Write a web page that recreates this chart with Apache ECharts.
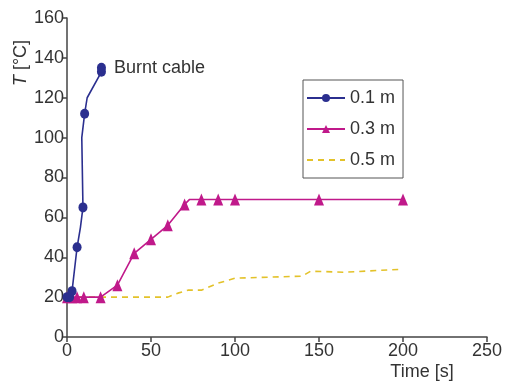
<!DOCTYPE html>
<html>
<head>
<meta charset="utf-8">
<script src="https://cdn.jsdelivr.net/npm/echarts@6/dist/echarts.min.js"></script>
<style>
  html, body { margin: 0; padding: 0; background: #fff; }
  #chart { width: 506px; height: 383px; }
</style>
</head>
<body>
<div id="chart"></div>
<script>
// 数据：[时间 s, 温度 °C, 是否画标记]
const blueData = [
  [0, 20, 1], [1.5, 20, 1], [3, 23, 1], [6, 45, 1], [8, 55, 0], [9.5, 65, 1],
  [8.8, 100, 0], [10.5, 112, 1], [12, 120, 0], [20.5, 133, 1], [20.5, 135, 1]
];
const pinkData = [
  [0, 20, 1], [3, 20, 1], [6, 20, 1], [10, 20, 1], [20, 20, 1], [30, 26, 1],
  [40, 42, 1], [50, 49, 1], [60, 56, 1], [70, 66.5, 1], [73, 69, 0], [80, 69, 1],
  [90, 69, 1], [100, 69, 1], [150, 69, 1], [200, 69, 1]
];
const yellowData = [
  [0, 20], [60, 20], [66, 22], [72, 23.5], [80, 23.5], [90, 27], [100, 29.5],
  [140, 30.5], [145, 33], [165, 32.5], [200, 34]
];
const seriesNames = ['0.1 m', '0.3 m', '0.5 m'];
const xTicks = { min: 0, max: 250, interval: 50 };
const yTicks = { min: 0, max: 160, interval: 20 };

const fontFamily = '"Liberation Sans", Arial, sans-serif';
const textColor = '#333';
const fontSize = 18;

// 把 [x, y, 标记] 转为 ECharts 数据项
function toItems(arr) {
  return arr.map(function (d) {
    const item = { value: [d[0], d[1]] };
    if (!d[2]) item.symbol = 'none';
    return item;
  });
}

const blueItems = toItems(blueData);
// 最后一个点加 "Burnt cable" 标签
blueItems[blueItems.length - 1].label = {
  show: true, position: 'right', distance: 8,
  formatter: 'Burnt cable', fontSize: fontSize, color: textColor, fontFamily: fontFamily
};

const chart = echarts.init(document.getElementById('chart'));
chart.setOption({
  animation: false,
  backgroundColor: '#fff',
  grid: { left: 67, right: 19, top: 18, bottom: 46 },
  legend: {
    orient: 'vertical',
    left: 303, top: 80,
    padding: [9, 8, 9, 3],
    itemWidth: 38, itemHeight: 10, itemGap: 13,
    borderColor: '#555', borderWidth: 1,
    textStyle: { fontSize: fontSize, color: textColor, fontFamily: fontFamily },
    data: [
      { name: seriesNames[0] },
      { name: seriesNames[1] },
      // 虚线图例只显示线，不显示圆点
      { name: seriesNames[2], itemStyle: { opacity: 0 } }
    ]
  },
  xAxis: {
    type: 'value',
    min: xTicks.min, max: xTicks.max, interval: xTicks.interval,
    splitLine: { show: false },
    axisLine: { lineStyle: { color: '#444', width: 1.5 } },
    axisTick: { show: true, length: 5, lineStyle: { color: '#444', width: 1.5 } },
    axisLabel: { fontSize: fontSize, color: textColor, fontFamily: fontFamily, margin: 5 }
  },
  yAxis: {
    type: 'value',
    min: yTicks.min, max: yTicks.max, interval: yTicks.interval,
    splitLine: { show: false },
    axisLine: { show: true, lineStyle: { color: '#444', width: 1.5 } },
    axisTick: { show: true, length: 5, lineStyle: { color: '#444', width: 1.5 } },
    axisLabel: { fontSize: fontSize, color: textColor, fontFamily: fontFamily, margin: 3 }
  },
  graphic: [
    {
      type: 'text', x: 21, y: 63, rotation: Math.PI / 2,
      style: {
        text: '{i|T} [°C]', align: 'center', verticalAlign: 'middle',
        fontSize: fontSize, fill: textColor, fontFamily: fontFamily,
        rich: { i: { fontStyle: 'italic', fontSize: fontSize, fontFamily: fontFamily, color: textColor } }
      }
    },
    {
      type: 'text', x: 422, y: 372,
      style: {
        text: 'Time [s]', align: 'center', verticalAlign: 'middle',
        fontSize: fontSize, fill: textColor, fontFamily: fontFamily
      }
    }
  ],
  series: [
    {
      name: seriesNames[0], type: 'line', data: blueItems,
      symbol: 'circle', symbolSize: [9, 10], color: '#2b2f8f',
      lineStyle: { width: 1.6, color: '#2b2f8f' }, z: 3
    },
    {
      name: seriesNames[1], type: 'line', data: toItems(pinkData),
      symbol: 'triangle', symbolSize: [10, 12], color: '#c0198a',
      lineStyle: { width: 1.6, color: '#c0198a' }, z: 2
    },
    {
      name: seriesNames[2], type: 'line', data: yellowData, symbol: 'none',
      color: '#e3c22a',
      lineStyle: { width: 1.6, type: [6, 5], color: '#e3c22a' }, z: 1
    }
  ]
});
</script>
</body>
</html>
